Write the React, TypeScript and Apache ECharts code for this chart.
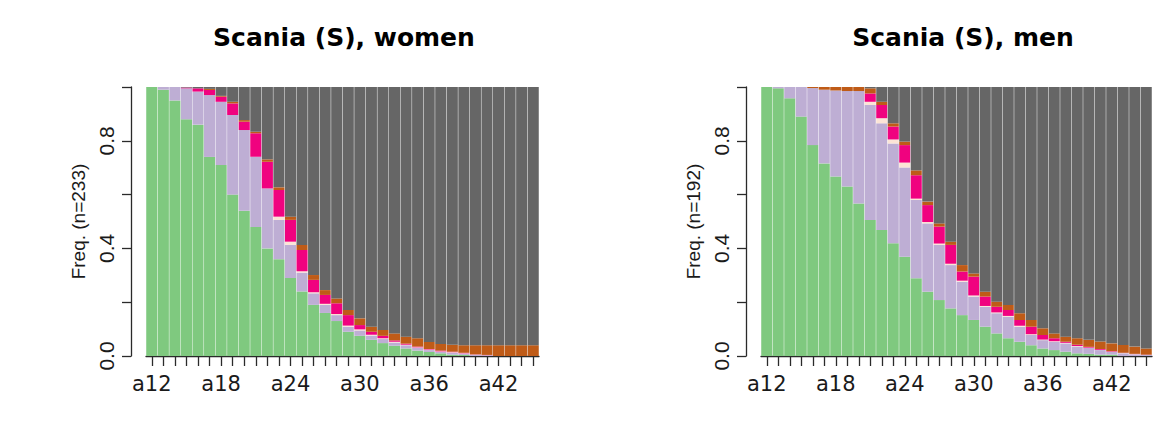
import React, { useEffect, useRef } from 'react';
import * as echarts from 'echarts';

const ages = ['a12','a13','a14','a15','a16','a17','a18','a19','a20','a21','a22','a23','a24','a25','a26','a27','a28','a29','a30','a31','a32','a33','a34','a35','a36','a37','a38','a39','a40','a41','a42','a43','a44','a45'];

const stateNames = ['state1', 'state2', 'state3', 'state4', 'state5', 'state6'];
const stateColors = ['#7FC97F', '#BEAED4', '#FCE4D6', '#F0027F', '#BF5B17', '#666666'];

// Women (n=233)
const wGreen = [1.00,.99,.95,.88,.86,.74,.71,.60,.54,.48,.40,.36,.29,.24,.19,.16,.13,.09,.075,.06,.048,.038,.028,.02,.015,.01,.005,.004,0,0,0,0,0,0];
const wLilac = [0,.01,.05,.115,.123,.23,.235,.296,.30,.261,.223,.146,.123,.07,.043,.03,.022,.019,.02,.016,.015,.012,.012,.01,.007,.005,.007,.005,.004,.002,0,0,0,0];
const wPeach = [0,0,0,0,0,0,0,0,0,0,0,.012,.012,.005,.004,.004,.004,.004,.004,.003,.003,.003,.002,.002,.002,.002,.002,.001,.001,.001,0,0,0,0];
const wPink = [0,0,0,.003,.012,.019,.019,.043,.031,.087,.099,.099,.081,.079,.046,.033,.04,.039,.016,.011,.009,.005,.004,.003,.002,.003,.002,.002,.001,.001,0,0,0,0];
const wBrown = [0,0,0,0,0,.004,.003,.006,.006,.006,.009,.01,.012,.019,.018,.018,.018,.019,.025,.019,.022,.026,.026,.031,.026,.025,.026,.028,.034,.036,.04,.04,.04,.04];
const wGray = [0,0,0,.002,.005,.007,.033,.055,.123,.166,.269,.373,.482,.587,.699,.755,.786,.829,.86,.891,.903,.916,.928,.934,.948,.955,.958,.96,.96,.96,.96,.96,.96,.96];

// Men (n=192)
const mGreen = [1.0,.995,.958,.89,.784,.716,.667,.63,.567,.506,.468,.419,.369,.289,.239,.208,.177,.152,.134,.109,.084,.066,.053,.04,.028,.022,.016,.01,.008,.005,.005,0,0,0];
const mLilac = [0,.005,.042,.11,.212,.274,.32,.355,.418,.427,.397,.371,.332,.291,.254,.205,.161,.124,.087,.074,.075,.08,.056,.038,.031,.031,.031,.025,.022,.017,.01,.01,.006,.004];
const mPeach = [0,0,0,0,0,0,0,0,0,.012,.019,.015,.018,.005,.005,.005,.005,.004,.004,.003,.003,.003,.003,.003,.002,.002,.002,.002,.001,.001,.001,.001,.001,0];
const mPink = [0,0,0,0,0,0,0,0,0,.031,.049,.048,.065,.087,.063,.063,.07,.034,.07,.035,.021,.022,.022,.028,.017,.011,.004,.005,.003,.003,.002,.001,.001,.001];
const mBrown = [0,0,0,0,.004,.01,.013,.015,.015,.019,.012,.012,.013,.018,.013,.012,.012,.024,.012,.018,.019,.019,.025,.025,.025,.018,.019,.024,.026,.028,.029,.029,.027,.023];
const mGray = [0,0,0,0,0,0,0,0,0,.005,.055,.135,.203,.31,.426,.507,.575,.662,.693,.761,.798,.81,.841,.866,.897,.916,.928,.934,.94,.946,.953,.959,.965,.972];

const titles = ['Scania (S), women', 'Scania (S), men'];
const yNames = ['Freq. (n=233)', 'Freq. (n=192)'];
const womenData = [wGreen, wLilac, wPeach, wPink, wBrown, wGray];
const menData = [mGreen, mLilac, mPeach, mPink, mBrown, mGray];

const textColor = '#1a1a1a';
const axisColor = '#2a2a2a';

function makeXAxis(gridIndex: number) {
  return {
    type: 'category',
    gridIndex,
    data: ages,
    position: 'bottom',
    offset: 3,
    axisLine: { show: true, lineStyle: { color: axisColor, width: 1.3 } },
    axisTick: { show: true, interval: 0, alignWithLabel: true, length: 10, lineStyle: { color: axisColor, width: 1.3 } },
    axisLabel: { interval: 5, margin: 14, fontSize: 21, fontFamily: 'DejaVu Sans', color: textColor },
    splitLine: { show: false },
  };
}

function makeYAxis(gridIndex: number, name: string) {
  return {
    type: 'value',
    gridIndex,
    min: 0,
    max: 1,
    interval: 0.2,
    offset: 15,
    name,
    nameLocation: 'middle',
    nameGap: 43,
    nameTextStyle: { fontSize: 19, fontFamily: 'Liberation Sans', color: textColor },
    axisLine: { show: true, lineStyle: { color: axisColor, width: 1.3 } },
    axisTick: { show: true, length: 9, lineStyle: { color: axisColor, width: 1.3 } },
    axisLabel: {
      rotate: 90,
      margin: 14,
      fontSize: 21,
      fontFamily: 'Liberation Sans',
      color: textColor,
      formatter: (v: number) => (Math.round(v * 10) % 4 === 0 ? v.toFixed(1) : ''),
    },
    splitLine: { show: false },
  };
}

function makeSeries(data: number[][], idx: number, stack: string) {
  return data.map((d, i) => ({
    type: 'bar',
    name: stateNames[i],
    stack,
    xAxisIndex: idx,
    yAxisIndex: idx,
    data: d,
    barCategoryGap: '4%',
    itemStyle: { color: stateColors[i] },
  }));
}

export default function App() {
  const ref = useRef<HTMLDivElement>(null);
  useEffect(() => {
    if (!ref.current) return;
    const chart = echarts.init(ref.current, null, { renderer: 'svg' });
    chart.setOption({
      animation: false,
      backgroundColor: '#ffffff',
      title: [
        { text: titles[0], left: 339, top: 20, textAlign: 'center', textStyle: { fontSize: 25, fontWeight: 'bold', fontFamily: 'DejaVu Sans', color: '#000' } },
        { text: titles[1], left: 958, top: 20, textAlign: 'center', textStyle: { fontSize: 25, fontWeight: 'bold', fontFamily: 'DejaVu Sans', color: '#000' } },
      ],
      grid: [
        { left: 146, top: 87, width: 393, height: 269 },
        { left: 761, top: 87, width: 391, height: 269 },
      ],
      xAxis: [makeXAxis(0), makeXAxis(1)],
      yAxis: [makeYAxis(0, yNames[0]), makeYAxis(1, yNames[1])],
      series: [...makeSeries(womenData, 0, 'women'), ...makeSeries(menData, 1, 'men')],
    });
    return () => chart.dispose();
  }, []);
  return <div ref={ref} style={{ position: 'fixed', left: 0, top: 0, width: 1153, height: 423 }} />;
}
